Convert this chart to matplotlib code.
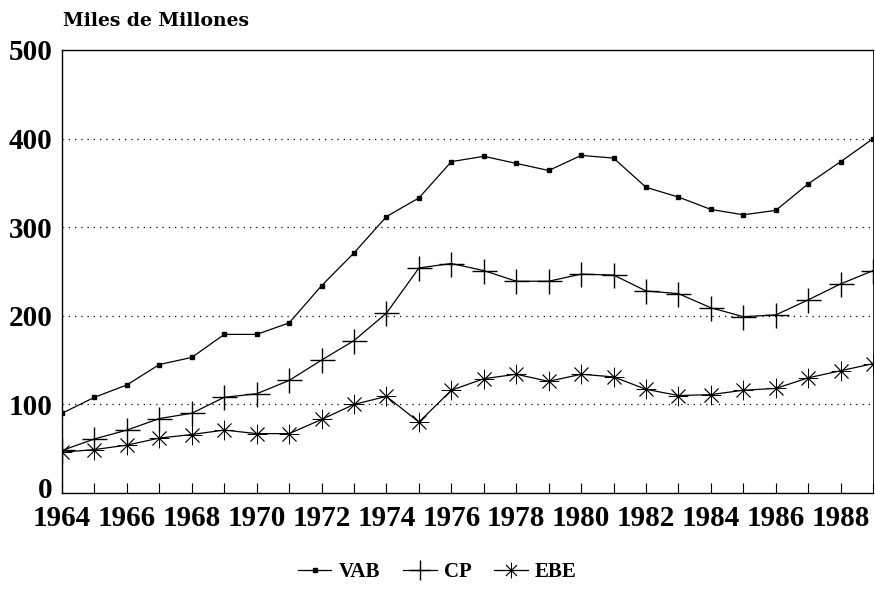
import numpy as np
import matplotlib.pyplot as plt
import matplotlib.transforms as mtransforms

years = list(range(1964, 1990))
vab = [90, 108, 122, 145, 153, 179, 179, 192, 234, 271, 312, 333, 374, 380, 372, 364,
       381, 378, 345, 334, 320, 314, 319, 349, 374, 400]
cp = [48, 61, 71, 84, 90, 108, 112, 127, 150, 172, 203, 254, 259, 251, 239, 239,
      247, 246, 228, 225, 209, 199, 201, 218, 236, 251]
ebe = [46, 49, 54, 62, 66, 71, 67, 67, 83, 100, 109, 80, 116, 129, 134, 126,
       134, 131, 117, 110, 111, 116, 118, 130, 138, 146]
tick_years = list(range(1964, 1989, 2))

plt.rcParams['font.family'] = ['Liberation Serif', 'DejaVu Serif']
plt.rcParams['font.weight'] = 'bold'

fig = plt.figure(figsize=(8.75, 6.06), dpi=100)
ax = fig.add_axes([0.0709, 0.1865, 0.927, 0.731])

ax.plot(years, vab, color='black', lw=0.9, marker='s', ms=3.5, label='VAB')
ax.plot(years, cp, color='black', lw=0.9, marker='+', ms=18, mew=1.0, label='CP')
ax.plot(years, ebe, color='black', lw=0.9, marker=(8, 2, 0), ms=14, mew=0.6, label='EBE')

ax.set_xlim(1964, 1989)
ax.set_ylim(0, 500)
ax.set_xticks(years, minor=True)
ax.set_xticks(tick_years)
ax.set_yticks([0, 100, 200, 300, 400, 500])
ax.tick_params(axis='x', which='both', direction='in', length=7, width=0.8,
               labelsize=21, pad=9)
ax.tick_params(axis='y', direction='in', length=0, labelsize=21, pad=7)
for lab in ax.get_xticklabels() + ax.get_yticklabels():
    lab.set_fontweight('bold')

# nudge the "0" label up a little so it clears the year labels
zero_lab = ax.get_yticklabels()[0]
zero_lab.set_transform(zero_lab.get_transform() +
                       mtransforms.ScaledTranslation(0, 4 / 72, fig.dpi_scale_trans))

for v in [100, 200, 300, 400]:
    ax.axhline(v, color='black', lw=0.9, linestyle=(0, (1, 4)), zorder=0)

for s in ax.spines.values():
    s.set_linewidth(1.0)
ax.spines['right'].set_linewidth(0.6)

fig.text(0.072, 0.965, 'Miles de Millones', fontsize=13.5, fontweight='bold',
         family='DejaVu Serif', ha='left', va='center')

leg = fig.legend(loc='center', bbox_to_anchor=(0.5, 0.056), ncol=3, frameon=False,
                 fontsize=15, handlelength=1.6, handletextpad=0.35, columnspacing=1.1,
                 markerscale=0.8)
for t in leg.get_texts():
    t.set_fontweight('bold')

fig.savefig('out.png', dpi=100)
